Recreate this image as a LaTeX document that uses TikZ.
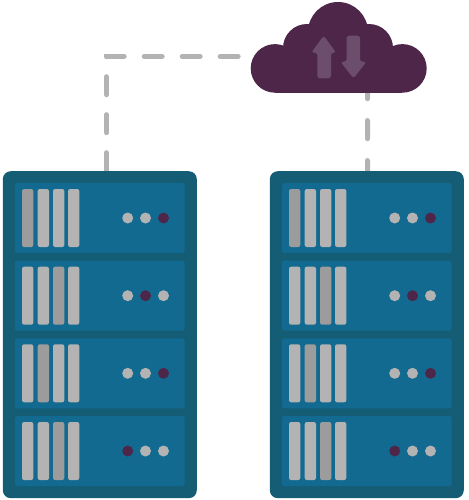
\documentclass[tikz,border=0pt]{standalone}
\usetikzlibrary{backgrounds}
\definecolor{NETpurple}{HTML}{4D2649}
\definecolor{NETarrow}{HTML}{6C4E6C}
\definecolor{NETrack}{HTML}{145D75}
\definecolor{NETpanel}{HTML}{126A91}
\definecolor{NETgrey}{HTML}{B3B3B3}
\definecolor{NETdark}{HTML}{9C9C9C}
\tikzset{
  rackbox/.style={fill=NETrack, rounded corners=4.5pt, inner sep=0pt, minimum width=3.88cm, minimum height=6.54cm},
  cloudbox/.style={inner sep=0pt, minimum width=3.52cm, minimum height=1.82cm},
  linkline/.style={NETgrey, line width=5*0.02cm, line cap=round}
}

\begin{document}
\begin{tikzpicture}[x=0.02cm, y=-0.02cm]
    \useasboundingbox (0,0) rectangle (469,500);

    % Racks
    \foreach \rackx/\rackname in {0/leftrack, 267/rightrack} {
      \begin{scope}[shift={(\rackx,0)}]
        \node[rackbox] (\rackname) at (99.8,334.7) {};
        \foreach \rowy/\darkbar/\darkdot in {183/1/3, 260.7/3/2, 338.3/2/3, 416/3/1} {
          \fill[NETpanel, rounded corners=1pt] (15,\rowy) rectangle (184.5,\rowy+70);
          \foreach \barx [count=\i] in {22,37.7,53,68} {
            \ifnum\i=\darkbar\def\barcol{NETdark}\else\def\barcol{NETgrey}\fi
            \fill[\barcol, rounded corners=1.2pt] (\barx,\rowy+6) rectangle (\barx+11.3,\rowy+64);
          }
          \foreach \dotx [count=\i] in {127.7,145.5,163.5} {
            \ifnum\i=\darkdot\def\dotcol{NETpurple}\else\def\dotcol{NETgrey}\fi
            \fill[\dotcol] (\dotx,\rowy+35) circle (5.5);
          }
        }
      \end{scope}
    }

    % Wolke
    \node[cloudbox] (cloud) at (338.7,47.4) {};
    \fill[NETpurple] (275,68.4) circle (24.3);
    \fill[NETpurple] (402.4,68.4) circle (24.3);
    \fill[NETpurple] (307,48) circle (24);
    \fill[NETpurple] (369,48) circle (24);
    \fill[NETpurple] (338,32) circle (30);
    \fill[NETpurple] (275,50) rectangle (402.4,92.7);

    % Pfeile in der Wolke
    \fill[NETarrow, rounded corners=1.5pt] (323.7,35.7) -- (336.2,52.7) -- (331,52.7) -- (331,78.3)
      -- (317.3,78.3) -- (317.3,52.7) -- (311.2,52.7) -- cycle;
    \fill[NETarrow, rounded corners=1.5pt] (353.5,78.3) -- (366.5,61.7) -- (360,61.7) -- (360,35.7)
      -- (346.7,35.7) -- (346.7,61.7) -- (340.5,61.7) -- cycle;

    % Verbindungen
    \coordinate (cloudleft) at ([xshift=-0.244cm, yshift=-0.18cm]cloud.west);
    \coordinate (cloudright) at ([xshift=0.576cm]cloud.south);
    \coordinate (leftport) at ([xshift=0.134cm]leftrack.north);
    \coordinate (rightport) at ([xshift=0.014cm]rightrack.north);
    \begin{scope}[on background layer]
      \draw[linkline, dash pattern=on 0.36cm off 0.4cm] (cloudleft) -| (leftport);
      \draw[linkline, dash pattern=on 0.364cm off 0.436cm, dash phase=0.254cm] (cloudright) -- (rightport);
    \end{scope}
\end{tikzpicture}
\end{document}
